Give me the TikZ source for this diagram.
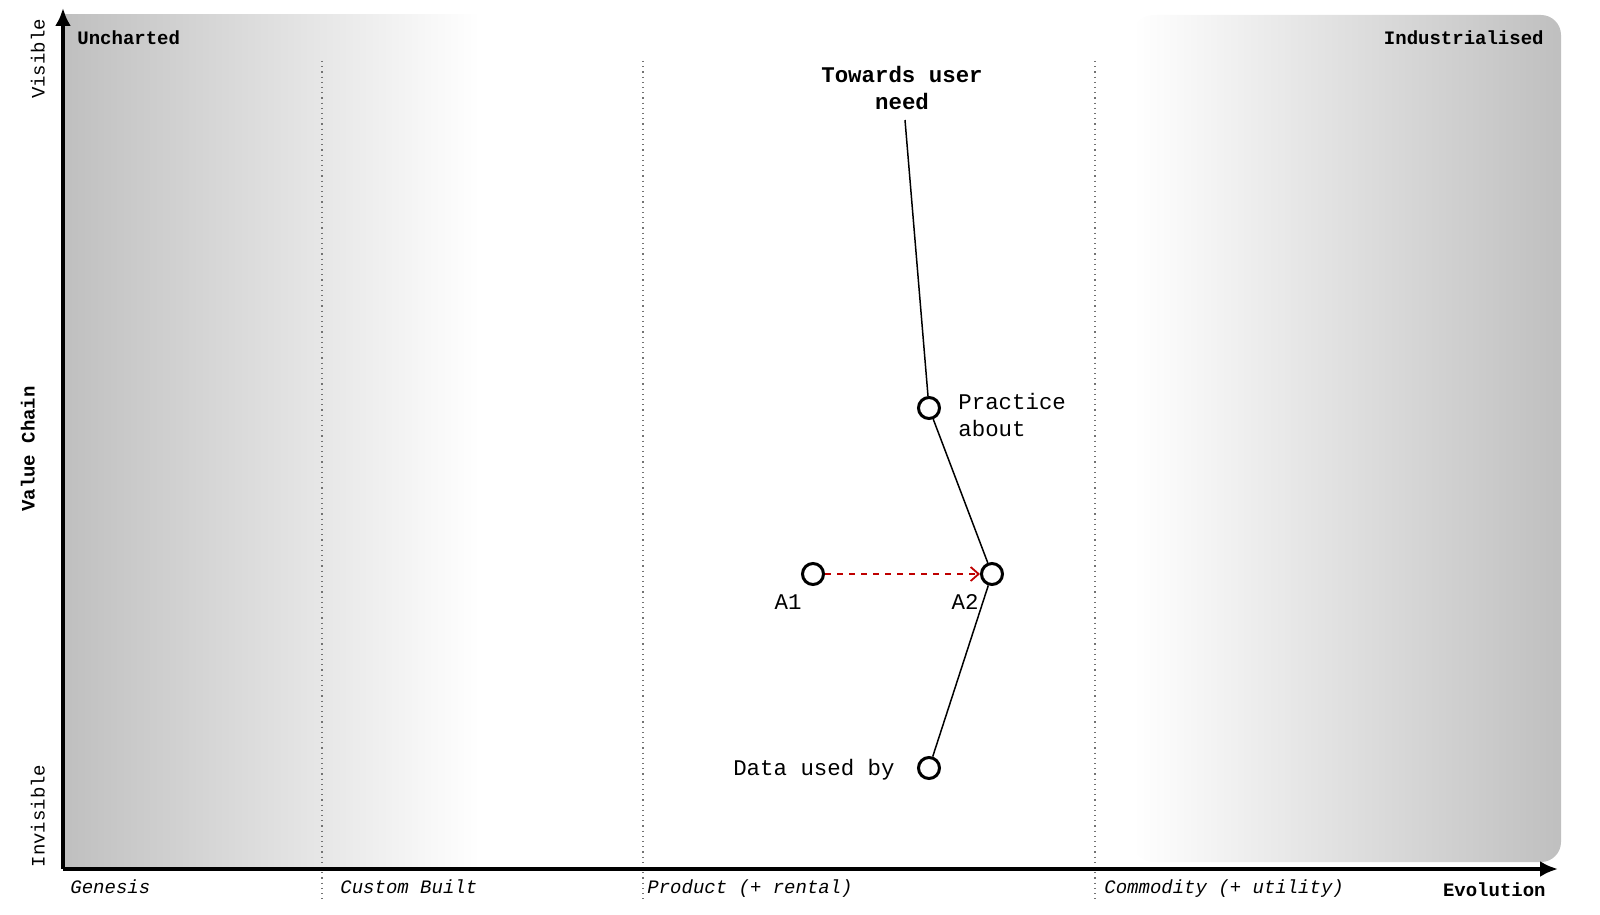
\documentclass[tikz,border=0pt]{standalone}
\usepackage{fontspec}
\setmainfont{Liberation Mono}
\usetikzlibrary{arrows.meta}
\begin{document}
\begin{tikzpicture}[x=0.5pt,y=-0.5pt,
  comp/.style={circle,draw=black,line width=1.5pt,fill=white,minimum size=10.5pt,inner sep=0pt},
  clabel/.style={font=\fontsize{11.2pt}{13.3pt}\selectfont,inner sep=0pt},
  small/.style={font=\fontsize{9.5pt}{11pt}\selectfont,inner sep=0pt,text height=1.5ex,text depth=.25ex},
  link/.style={draw=black,line width=0.75pt},
  move/.style={draw=red!75!black,line width=0.9pt,dashed,-{Straight Barb[length=4pt,width=7pt]}},
  stage/.style={draw=black!55,dotted,line width=0.6pt},
  axis/.style={draw=black,line width=2pt,-{Latex[length=9pt,width=8pt]}}]
\useasboundingbox (0,0) rectangle (1600,915);
% background shading
\shade[left color=black!25,right color=white] (63,15) rectangle (480,869);
\shade[left color=white,right color=black!25,rounded corners=10pt] (1133,15) rectangle (1561,862);
% stage lines
\draw[stage] (322,61) -- (322,903);
\draw[stage] (643,61) -- (643,903);
\draw[stage] (1095,61) -- (1095,903);
% axes
\coordinate (o) at (63,869);
\coordinate (ytop) at (63,8);
\coordinate (xend) at (1558,869);
\draw[axis] (o) -- (ytop);
\draw[axis] (o) -- (xend);
% axis labels
\node[small,anchor=west,font=\fontsize{9.5pt}{11pt}\selectfont\bfseries] (unch) at (77,38) {Uncharted};
\node[small,anchor=east,font=\fontsize{9.5pt}{11pt}\selectfont\bfseries] (ind) at (1544,38) {Industrialised};
\node[small,rotate=90] (vis) at (38,59) {Visible};
\node[small,rotate=90] (invis) at (38,816) {Invisible};
\node[small,rotate=90,font=\fontsize{9.5pt}{11pt}\selectfont\bfseries] (vc) at (28,449) {Value Chain};
\node[small,anchor=west,font=\fontsize{9.5pt}{11pt}\selectfont\itshape] (gen) at (70,887) {Genesis};
\node[small,anchor=west,font=\fontsize{9.5pt}{11pt}\selectfont\itshape] (cb) at (340,887) {Custom Built};
\node[small,anchor=west,font=\fontsize{9.5pt}{11pt}\selectfont\itshape] (prod) at (647,887) {Product (+ rental)};
\node[small,anchor=west,font=\fontsize{9.5pt}{11pt}\selectfont\itshape] (comm) at (1104,887) {Commodity (+ utility)};
\node[small,anchor=east,font=\fontsize{9.5pt}{11pt}\selectfont\bfseries] (evo) at (1546,890) {Evolution};
% components
\node[clabel,align=center,font=\fontsize{11.2pt}{13.3pt}\selectfont\bfseries] (tw) at (902,88) {Towards user\\need};
\node[comp] (pa) at (929,408) {};
\node[comp] (a2) at (992,574) {};
\node[comp] (a1) at (813,574) {};
\node[comp] (du) at (929,768) {};
\node[clabel,align=left,anchor=west] (pal) at (958,415) {Practice\\about};
\node[clabel] (a1l) at (788,602) {A1};
\node[clabel] (a2l) at (965,602) {A2};
\node[clabel,anchor=east] (dul) at (895,770) {Data used by};
% links
\coordinate (twend) at (905,120);
\draw[link] (twend) -- (pa);
\draw[link] (pa) -- (a2);
\draw[link] (a2) -- (du);
\draw[move] (a1) -- (a2);
\end{tikzpicture}
\end{document}
